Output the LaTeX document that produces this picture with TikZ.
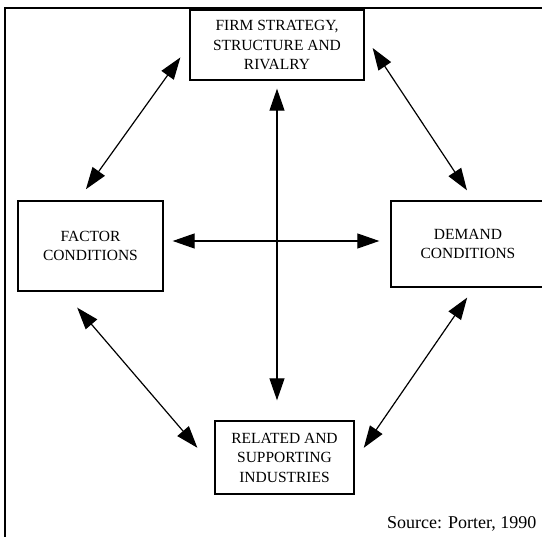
\documentclass[tikz,border=0pt]{standalone}
\usepackage{fontspec}
\setmainfont{Liberation Serif}
\usetikzlibrary{arrows.meta}
\begin{document}
\begin{tikzpicture}[x=1pt,y=-1pt,
    box/.style={draw,line width=1.4pt,align=center,inner sep=0pt,
      font=\fontsize{15.5}{19.5}\selectfont},
    link/.style={line width=1.2pt,
      {Triangle[length=22pt,width=15pt]}-{Triangle[length=22pt,width=15pt]}}]
  \useasboundingbox (0,0) rectangle (542,537);
  \draw[line width=2pt] (5,537) -- (5,8) -- (542,8);
  \draw
    (277,45) node[box,minimum width=174pt,minimum height=70pt] (firm){FIRM STRATEGY,\\STRUCTURE AND\\RIVALRY}
    (90.5,246) node[box,minimum width=145pt,minimum height=90pt] (factor){FACTOR\\CONDITIONS}
    (468,244) node[box,minimum width=154pt,minimum height=86pt] (demand){DEMAND\\CONDITIONS}
    (284.5,457.5) node[box,minimum width=139pt,minimum height=73pt] (related){RELATED AND\\SUPPORTING\\INDUSTRIES};
  \node[anchor=base east,font=\fontsize{18}{22}\selectfont] (source) at (540,529) {Source: Porter, 1990};
  \begin{scope}[link]
    \draw[shorten <=8pt,shorten >=20pt] (firm.south) to (firm.south |- related.north);
    \draw[shorten <=9pt,shorten >=11pt] ([yshift=5pt]factor.east) to ([yshift=5pt]factor.east -| demand.west);
    \draw[shorten <=13.6pt,shorten >=15.3pt] ([xshift=-12.5pt]factor.north) to (firm.west);
    \draw[shorten <=14.4pt,shorten >=12pt] ([yshift=9pt]firm.east) to ([xshift=5.6pt]demand.north);
    \draw[shorten <=21pt,shorten >=26pt] ([xshift=-27pt]factor.south) to ([yshift=-10pt]related.west);
    \draw[shorten <=12pt,shorten >=16pt] ([xshift=6pt]demand.south) to ([yshift=-3.5pt]related.east);
  \end{scope}
\end{tikzpicture}
\end{document}
